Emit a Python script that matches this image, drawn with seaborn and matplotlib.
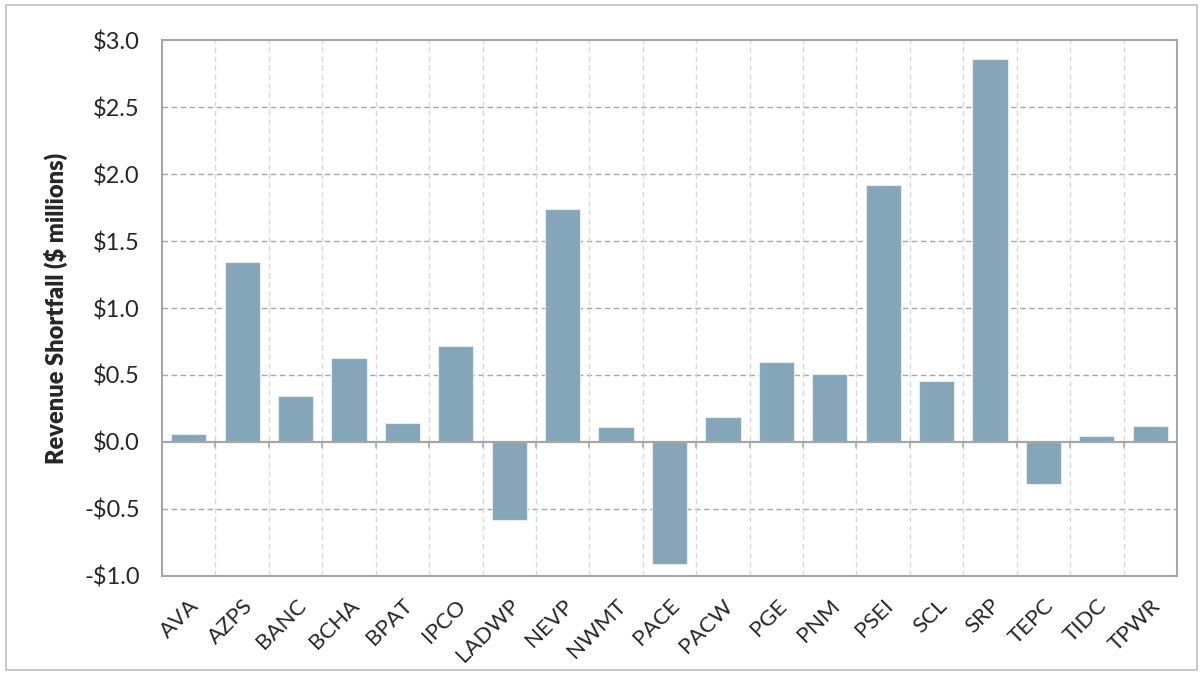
import numpy as np
import pandas as pd
import seaborn as sns
import matplotlib.pyplot as plt
from matplotlib.patches import Rectangle

areas = ['AVA', 'AZPS', 'BANC', 'BCHA', 'BPAT', 'IPCO', 'LADWP', 'NEVP', 'NWMT', 'PACE',
         'PACW', 'PGE', 'PNM', 'PSEI', 'SCL', 'SRP', 'TEPC', 'TIDC', 'TPWR']
shortfall = [0.06, 1.34, 0.34, 0.63, 0.14, 0.72, -0.58, 1.74, 0.11, -0.91,
             0.19, 0.60, 0.51, 1.92, 0.455, 2.86, -0.31, 0.045, 0.12]
yticks = [-1.0, -0.5, 0.0, 0.5, 1.0, 1.5, 2.0, 2.5, 3.0]

df = pd.DataFrame({'area': areas, 'shortfall': shortfall})

sns.set_style('white')
plt.rcParams['font.family'] = ['Lato', 'DejaVu Sans']

fig = plt.figure(figsize=(12.01, 6.75), dpi=100)
ax = fig.add_axes([0.1349, 0.1467, 0.8451, 0.794])

sns.barplot(data=df, x='area', y='shortfall', color='#84a6b8', saturation=1,
            width=0.66, edgecolor='#e4ecf0', linewidth=0.8, ax=ax, zorder=3)

ax.set_ylim(-1.0, 3.0)
ax.set_xlim(-0.5, len(areas) - 0.5)
ax.set_yticks(yticks)
ax.set_yticklabels([f'-${abs(v):.1f}' if v < 0 else f'${v:.1f}' for v in yticks], fontsize=17)
ax.tick_params(axis='y', length=0, pad=16)
ax.tick_params(axis='x', length=0, pad=14)
plt.setp(ax.get_xticklabels(), rotation=45, ha='right', rotation_mode='anchor', fontsize=16)

# gridlines
for v in yticks[1:-1]:
    if v == 0:
        ax.axhline(v, color='#a6a6a6', lw=1.6, zorder=4)
    else:
        ax.axhline(v, color='#a6a6a6', lw=1.0, ls=(0, (4, 2.5)), zorder=1)
for i in range(len(areas) - 1):
    ax.axvline(i + 0.5, color='#d9d9d9', lw=1.0, ls=(0, (4, 2.5)), zorder=1)
    ax.plot([i + 0.5, i + 0.5], [0, -0.04], color='#a6a6a6', lw=1.2, zorder=4)

for s in ax.spines.values():
    s.set_color('#a6a6a6')
    s.set_linewidth(1.5)
    s.set_visible(True)

ax.set_xlabel('')
ax.set_ylabel('Revenue Shortfall ($ millions)', fontsize=17, fontweight='heavy', labelpad=12)

fig.patches.append(Rectangle((0.005, 0.007), 0.992, 0.986, transform=fig.transFigure,
                             fill=False, edgecolor='#bfbfbf', lw=1.2))

fig.savefig('out.png', dpi=100)
